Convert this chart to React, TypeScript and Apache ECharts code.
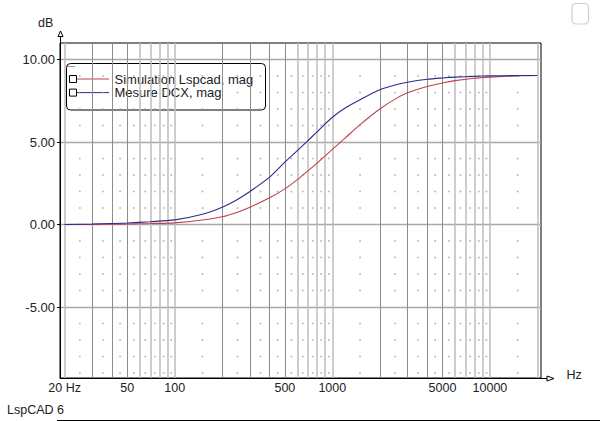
import React, { useEffect, useRef } from "react";
import * as echarts from "echarts";

// Frequencies (Hz) at which the curves were read
const freqs = [20, 30, 40, 50, 70, 100, 150, 200, 250, 300, 400, 500, 600, 700, 800, 1000, 1200, 1500, 2000, 2500, 3000, 4000, 5000, 6000, 8000, 10000, 13000, 16000, 20000];
// "Simulation Lspcad, mag" (dB)
const simulation = [0.0, 0.01, 0.02, 0.03, 0.06, 0.1, 0.27, 0.47, 0.75, 1.05, 1.62, 2.16, 2.72, 3.25, 3.72, 4.55, 5.22, 6.05, 7.0, 7.6, 7.98, 8.36, 8.58, 8.72, 8.86, 8.93, 8.99, 9.02, 9.03];
// "Mesure DCX, mag" (dB)
const mesure = [0.0, 0.03, 0.06, 0.09, 0.17, 0.28, 0.62, 1.05, 1.52, 2.0, 2.87, 3.78, 4.48, 5.08, 5.62, 6.5, 7.05, 7.56, 8.16, 8.45, 8.62, 8.8, 8.88, 8.93, 8.98, 9.01, 9.02, 9.03, 9.03];

const seriesNames = ["Simulation Lspcad, mag", "Mesure DCX, mag"];
const seriesColors = ["#c0404c", "#2c2c8e"];

// Axis labels / grid
const xLabelFreqs = [20, 50, 100, 500, 1000, 5000, 10000];
const xDarkLines = [30, 40, 50, 200, 300, 400, 500, 2000, 3000, 4000, 5000];
const xLightLines = [20, 60, 70, 80, 90, 100, 600, 700, 800, 900, 1000, 6000, 7000, 8000, 9000, 10000, 20000];
const yTicks = [-5, 0, 5, 10];
const dotFreqs = [25, 35, 45, 55, 65, 75, 85, 95, 150, 250, 350, 450, 550, 650, 750, 850, 950, 1500, 2500, 3500, 4500, 5500, 6500, 7500, 8500, 9500, 15000];
const dotRows = [-9, -8, -7, -6, -4, -3, -2, -1, 1, 2, 3, 4, 6, 7, 8, 9];

const FONT = "'Liberation Sans', Arial, sans-serif";

export default function App() {
  const ref = useRef<HTMLDivElement>(null);
  useEffect(() => {
    if (!ref.current) return;
    const chart = echarts.init(ref.current, undefined, { renderer: "svg" });
    const xBase: any = { type: "log", logBase: 10, min: 18.7, max: 21100 };
    const dots: number[][] = [];
    dotFreqs.forEach((f) => dotRows.forEach((r) => dots.push([f, r])));
    const option: any = {
      animation: false,
      backgroundColor: "#fff",
      grid: {
        left: 60,
        top: 43,
        width: 481,
        height: 335,
        show: true,
        borderColor: "#000",
        borderWidth: 1,
        outerBoundsMode: "none",
      },
      xAxis: [
        {
          ...xBase,
          axisLine: { show: true, onZero: false, lineStyle: { color: "#000", width: 1 } },
          axisTick: { show: false, customValues: xDarkLines },
          axisLabel: {
            customValues: xLabelFreqs,
            formatter: (v: number) => (v === 20 ? "20 Hz" : String(v)),
            fontSize: 12.5,
            color: "#222",
            margin: 3,
            fontFamily: FONT,
          },
          splitLine: { show: true, lineStyle: { color: "#8c8c8c", width: 1 } },
        },
        {
          ...xBase,
          axisLine: { show: false },
          axisTick: { show: false, customValues: xLightLines },
          axisLabel: { show: false },
          splitLine: { show: true, lineStyle: { color: "#bdbdbd", width: 1.5 } },
        },
      ],
      yAxis: {
        type: "value",
        min: -9.3,
        max: 11,
        axisLine: { show: true, onZero: false, lineStyle: { color: "#000", width: 1 } },
        axisTick: { show: true, length: 3, customValues: yTicks, lineStyle: { color: "#000" } },
        axisLabel: {
          customValues: yTicks,
          formatter: (v: number) => v.toFixed(2),
          fontSize: 13,
          color: "#222",
          margin: 5,
          fontFamily: FONT,
        },
        splitLine: { show: true, lineStyle: { color: "#a8a8a8", width: 1.3 } },
      },
      series: [
        {
          type: "scatter",
          xAxisIndex: 0,
          data: dots,
          symbol: "rect",
          symbolSize: 1.6,
          itemStyle: { color: "#9a9a9a" },
          silent: true,
          z: 1,
        },
        {
          name: seriesNames[0],
          type: "line",
          xAxisIndex: 0,
          data: freqs.map((f, i) => [f, simulation[i]]),
          showSymbol: false,
          smooth: 0.25,
          lineStyle: { color: seriesColors[0], width: 1.1 },
          z: 3,
        },
        {
          name: seriesNames[1],
          type: "line",
          xAxisIndex: 0,
          data: freqs.map((f, i) => [f, mesure[i]]),
          showSymbol: false,
          smooth: 0.25,
          lineStyle: { color: seriesColors[1], width: 1.1 },
          z: 4,
        },
      ],
      graphic: [
        // y-axis arrow
        { type: "line", shape: { x1: 60.5, y1: 43, x2: 60.5, y2: 36.5 }, style: { stroke: "#000", lineWidth: 1 } },
        { type: "polygon", shape: { points: [[60.5, 31], [58, 36.5], [63, 36.5]] }, style: { fill: "#fff", stroke: "#000", lineWidth: 1 } },
        // x-axis arrow
        { type: "line", shape: { x1: 541, y1: 378.5, x2: 547, y2: 378.5 }, style: { stroke: "#000", lineWidth: 1 } },
        { type: "polygon", shape: { points: [[554, 378.5], [547, 376], [547, 381]] }, style: { fill: "#fff", stroke: "#000", lineWidth: 1 } },
        { type: "text", x: 38, y: 22.5, style: { text: "dB", font: `12.5px ${FONT}`, fill: "#222", verticalAlign: "middle" } },
        { type: "text", x: 566.5, y: 375, style: { text: "Hz", font: `12.5px ${FONT}`, fill: "#222", verticalAlign: "middle" } },
        // legend
        {
          type: "group",
          z: 100,
          children: [
            { type: "rect", shape: { x: 66.5, y: 63.5, width: 199, height: 46.5, r: 4 }, style: { fill: "#fff", stroke: "#000", lineWidth: 1 } },
            { type: "line", shape: { x1: 67.5, y1: 66.5, x2: 75, y2: 66.5 }, style: { stroke: "#333", lineWidth: 1, lineDash: [1, 1] } },
            ...seriesNames.flatMap((name, i) => {
              const cy = 79 + i * 13.6;
              return [
                { type: "rect", shape: { x: 69.5, y: cy - 3.5, width: 7, height: 7 }, style: { fill: "#fff", stroke: "#000", lineWidth: 1 } },
                { type: "line", shape: { x1: 77, y1: cy, x2: 109, y2: cy }, style: { stroke: seriesColors[i], lineWidth: 1 } },
                { type: "text", x: 114.5, y: cy, style: { text: name, font: `13px ${FONT}`, fill: "#222", verticalAlign: "middle" } },
              ];
            }),
          ],
        },
        { type: "text", x: 7, y: 410, style: { text: "LspCAD 6", font: `12.5px ${FONT}`, fill: "#222", verticalAlign: "middle" } },
        { type: "line", shape: { x1: 57, y1: 420.5, x2: 600, y2: 420.5 }, style: { stroke: "#000", lineWidth: 1 } },
        { type: "rect", shape: { x: 572, y: 3.5, width: 16.5, height: 20.5, r: 4 }, style: { fill: "none", stroke: "#cfcfcf", lineWidth: 1.2 } },
      ],
    };
    chart.setOption(option);
    return () => chart.dispose();
  }, []);
  return (
    <div
      ref={ref}
      style={{ position: "fixed", left: 0, top: 0, width: 600, height: 421, background: "#fff" }}
    />
  );
}
